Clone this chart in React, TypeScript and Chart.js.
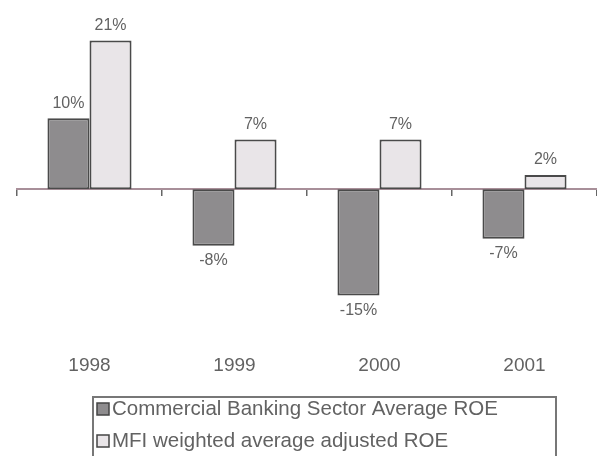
import React, { useEffect, useRef } from "react";
import { Chart, registerables } from "chart.js";

Chart.register(...registerables);

const categories = ["1998", "1999", "2000", "2001"];
const bankingROE = [10, -8, -15, -7];
const mfiROE = [21, 7, 7, 2];
const seriesNames = [
  "Commercial Banking Sector Average ROE",
  "MFI weighted average adjusted ROE",
];

const FONT = "'Liberation Sans', Arial, sans-serif";
const TEXT = "#626262";

const valueLabels = {
  id: "valueLabels",
  afterDatasetsDraw(chart: any) {
    const ctx = chart.ctx;
    ctx.save();
    ctx.font = `16px ${FONT}`;
    ctx.fillStyle = TEXT;
    ctx.textAlign = "center";
    chart.data.datasets.forEach((ds: any, di: number) => {
      const meta = chart.getDatasetMeta(di);
      meta.data.forEach((el: any, i: number) => {
        const v = ds.data[i];
        if (v >= 0) {
          ctx.textBaseline = "bottom";
          ctx.fillText(`${v}%`, el.x, el.y - 7);
        } else {
          ctx.textBaseline = "top";
          ctx.fillText(`${v}%`, el.x, el.y + 7);
        }
      });
    });
    ctx.restore();
  },
};

const boxLegend = {
  id: "boxLegend",
  afterDraw(chart: any, _args: any, opts: any) {
    const ctx = chart.ctx;
    ctx.save();
    ctx.strokeStyle = "#777";
    ctx.lineWidth = 2;
    ctx.strokeRect(opts.left, opts.top, opts.width, opts.height);
    ctx.font = `${opts.fontSize}px ${FONT}`;
    ctx.textBaseline = "middle";
    ctx.textAlign = "left";
    chart.data.datasets.forEach((ds: any, i: number) => {
      const cy = opts.top + opts.firstRow + i * opts.rowGap;
      ctx.fillStyle = ds.backgroundColor;
      ctx.fillRect(opts.left + 4, cy - 6, 12, 12);
      ctx.strokeStyle = "#444";
      ctx.lineWidth = 1.5;
      ctx.strokeRect(opts.left + 4, cy - 6, 12, 12);
      ctx.fillStyle = TEXT;
      ctx.fillText(ds.label, opts.left + 19, cy);
    });
    ctx.restore();
  },
};

export default function App() {
  const ref = useRef<HTMLCanvasElement>(null);
  useEffect(() => {
    if (!ref.current) return;
    const chart = new Chart(ref.current, {
      type: "bar",
      data: {
        labels: categories,
        datasets: [
          {
            label: seriesNames[0],
            data: bankingROE,
            backgroundColor: "#8e8c8e",
            borderColor: "#4a4a4a",
            borderWidth: 2,
            borderSkipped: false,
            categoryPercentage: 0.58,
            barPercentage: 1.0,
          },
          {
            label: seriesNames[1],
            data: mfiROE,
            backgroundColor: "#e9e5e8",
            borderColor: "#4a4a4a",
            borderWidth: 2,
            borderSkipped: false,
            categoryPercentage: 0.58,
            barPercentage: 1.0,
          },
        ],
      },
      plugins: [valueLabels, boxLegend],
      options: {
        responsive: false,
        animation: false,
        layout: { padding: { left: 17, right: 0, top: 10, bottom: 64 } },
        plugins: {
          legend: { display: false },
          tooltip: { enabled: false },
          boxLegend: {
            left: 93,
            top: 397,
            width: 463,
            height: 80,
            firstRow: 12,
            rowGap: 32,
            fontSize: 20.5,
          },
        } as any,
        scales: {
          x: {
            type: "category",
            position: "bottom",
            grid: { display: false, drawTicks: false },
            border: { display: false },
            ticks: {
              color: TEXT,
              font: { size: 19, family: FONT },
              padding: 14.6,
            },
          },
          x0: {
            type: "category",
            position: { y: 0 } as any,
            offset: true,
            grid: {
              offset: true,
              drawOnChartArea: false,
              drawTicks: true,
              tickLength: 6,
              color: "#666",
              lineWidth: 1.5,
            },
            border: { color: "#a88f99", width: 2 },
            ticks: { display: false },
          },
          y: {
            display: false,
            min: -21.3,
            max: 25.3,
          },
        },
      },
    });
    return () => chart.destroy();
  }, []);
  return (
    <div style={{ position: "fixed", left: 0, top: 0, width: 597, height: 456, background: "#fff" }}>
      <canvas ref={ref} width={597} height={456} />
    </div>
  );
}
